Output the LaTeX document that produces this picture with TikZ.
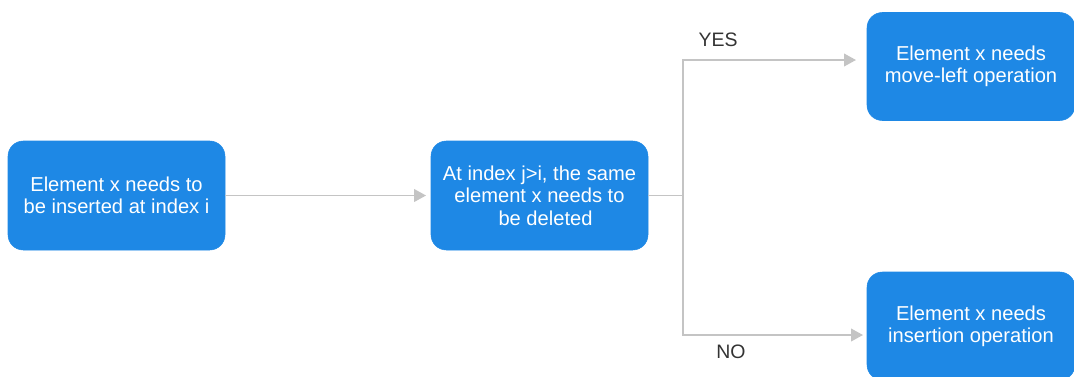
\documentclass[tikz,border=0pt]{standalone}
\usepackage{fontspec}
\setmainfont{Liberation Sans}
\usetikzlibrary{arrows.meta}
\definecolor{boxblue}{HTML}{1E88E5}
\definecolor{linegray}{HTML}{C4C4C4}
\definecolor{labelgray}{HTML}{333333}
\begin{document}
\begin{tikzpicture}[x=0.75pt,y=-0.75pt,
  box/.style={draw=boxblue,fill=boxblue,rounded corners=11.5pt,text=white,align=center,
    minimum width=217*0.75pt,minimum height=109*0.75pt,inner sep=0pt,
    font=\fontsize{15.1}{16.8}\selectfont},
  conn/.style={draw=linegray,line width=1.4pt},
  arr/.style={conn,-{Triangle[length=9pt,width=9.5pt]}},
  lbl/.style={text=labelgray,font=\fontsize{14.6}{16}\selectfont,inner sep=0pt}]
\useasboundingbox (0,0) rectangle (1074,376);
\begin{scope}
\clip (0,0) rectangle (1074,376);
\node[box] (A) at (116.5,195.5) {Element x needs to\\be inserted at index i};
\node[box] (B) at (539.5,195.5) {At index j>i, the same\\element x needs to\\\hspace*{0.6em}be deleted};
\node[box,minimum width=208*0.75pt,minimum height=108*0.75pt] (C) at (971,66.5) {Element x needs\\move-left operation};
\node[box,minimum width=208*0.75pt,minimum height=108*0.75pt] (D) at (971,326) {Element x needs\\insertion operation};
\end{scope}
\coordinate (J) at (683,195.5);
\coordinate (Y) at (856,60);
\coordinate (N) at (863,335);
\draw[arr] (A.east) -- ([xshift=-3.5pt]B.west);
\draw[conn] (B.east) -- (J);
\draw[arr] (J) |- (Y);
\draw[arr] (J) |- (N);
\node[lbl] (yes) at (718,40) {YES};
\node[lbl] (no) at (731,352) {NO};
\end{tikzpicture}
\end{document}
